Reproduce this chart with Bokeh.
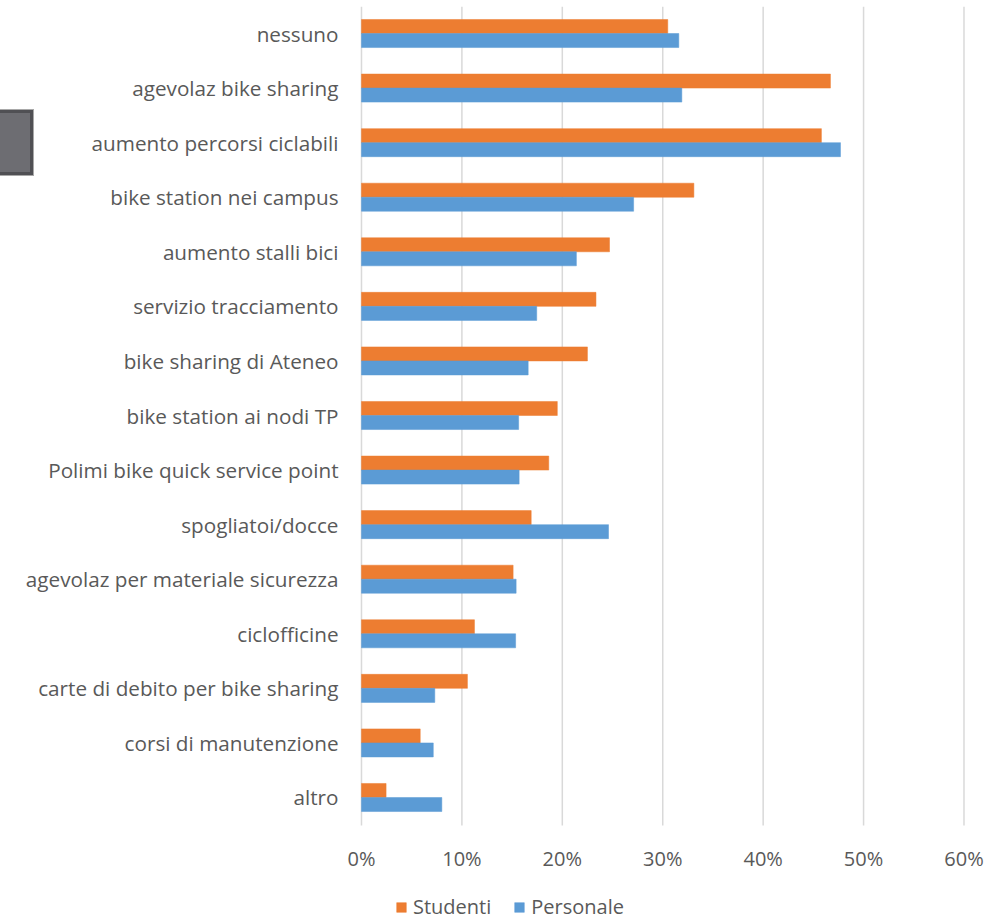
from bokeh.plotting import figure
from bokeh.models import (ColumnDataSource, Range1d, FixedTicker, Legend, LegendItem, Div)
from bokeh.core.properties import value
from bokeh.layouts import column
from bokeh.embed import file_html
from bokeh.resources import INLINE

categories = [
    "nessuno",
    "agevolaz bike sharing",
    "aumento percorsi ciclabili",
    "bike station nei campus",
    "aumento stalli bici",
    "servizio tracciamento",
    "bike sharing di Ateneo",
    "bike station ai nodi TP",
    "Polimi bike quick service point",
    "spogliatoi/docce",
    "agevolaz per materiale sicurezza",
    "ciclofficine",
    "carte di debito per bike sharing",
    "corsi di manutenzione",
    "altro",
]
studenti = [30.5, 46.7, 45.8, 33.1, 24.7, 23.35, 22.5, 19.5, 18.65, 16.9, 15.1, 11.25, 10.55, 5.85, 2.45]
personale = [31.6, 31.9, 47.7, 27.1, 21.4, 17.45, 16.6, 15.65, 15.7, 24.6, 15.4, 15.35, 7.3, 7.15, 8.0]
x_ticks = [0, 0.1, 0.2, 0.3, 0.4, 0.5, 0.6]
x_tick_labels = ["0%", "10%", "20%", "30%", "40%", "50%", "60%"]
series_names = ["Studenti", "Personale"]

ORANGE = "#ED7D31"
BLUE = "#5B9BD5"
TEXT = "#595959"
FONT = "Open Sans"

n = len(categories)
ypos = [n - 1 - i for i in range(n)]
bar_h = 0.257
area_bottom = -0.514   # bottom of the plotting area (data units)
area_top = 14.495      # top of the plotting area
label_y = -1.118       # row of the percentage labels under the plot area

src = ColumnDataSource(dict(
    ys=[v + bar_h / 2 for v in ypos],
    yp=[v - bar_h / 2 for v in ypos],
    stud=[v / 100 for v in studenti],
    pers=[v / 100 for v in personale],
))

p = figure(
    output_backend="svg", toolbar_location=None,
    frame_width=649, frame_height=914,
    min_border_left=341, min_border_right=14, min_border_top=6, min_border_bottom=0,
    x_range=Range1d(-0.0199, 0.6264), y_range=Range1d(-2.254, area_top),
    x_axis_location=None, outline_line_color=None,
)
p.xgrid.grid_line_color = None
p.ygrid.grid_line_color = None

# vertical gridlines, limited to the plotting area
grid_src = ColumnDataSource(dict(x=x_ticks, y0=[area_bottom] * len(x_ticks),
                                 y1=[area_top] * len(x_ticks)))
p.segment(x0="x", y0="y0", x1="x", y1="y1", source=grid_src,
          line_color="#D9D9D9", line_width=1.5)

r1 = p.hbar(y="ys", left=0, right="stud", height=bar_h, source=src,
            fill_color=ORANGE, line_color=ORANGE, line_width=0.5)
r2 = p.hbar(y="yp", left=0, right="pers", height=bar_h, source=src,
            fill_color=BLUE, line_color=BLUE, line_width=0.5)

# percentage labels of the value axis
tick_src = ColumnDataSource(dict(x=x_ticks, y=[label_y] * len(x_ticks), t=x_tick_labels))
p.text(x="x", y="y", text="t", source=tick_src, text_align="center",
       text_baseline="middle", text_font=value(FONT), text_font_size="20px",
       text_color=TEXT)

# category axis
p.yaxis.ticker = FixedTicker(ticks=ypos)
p.yaxis.major_label_overrides = {yv: c for yv, c in zip(ypos, categories)}
p.yaxis.axis_line_color = None
p.yaxis.major_tick_line_color = None
p.yaxis.minor_tick_line_color = None
p.yaxis.major_tick_out = 0
p.yaxis.major_tick_in = 0
p.yaxis.major_label_standoff = 3
p.yaxis.major_label_text_font = FONT
p.yaxis.major_label_text_font_size = "20.7px"
p.yaxis.major_label_text_color = TEXT

legend = Legend(
    items=[LegendItem(label=series_names[0], renderers=[r1]),
           LegendItem(label=series_names[1], renderers=[r2])],
    orientation="horizontal", location=(54, 0),
    label_text_font=FONT, label_text_font_size="20px", label_text_color=TEXT,
    glyph_width=12, glyph_height=12, label_standoff=6, spacing=22,
    border_line_color=None, background_fill_alpha=0,
    padding=0, margin=0,
)
p.add_layout(legend, "center")

box = Div(
    text=("<div style='position:fixed;left:-3px;top:110px;width:36px;height:65px;"
          "box-sizing:border-box;background:#6D6D72;border:3px solid #505054;"
          "box-shadow:0 0 0 1px #A8A8A8;'></div>"),
    width=0, height=0, margin=0,
)

layout = column(p, box, spacing=0)
open("out.html", "w").write(file_html(layout, INLINE))
